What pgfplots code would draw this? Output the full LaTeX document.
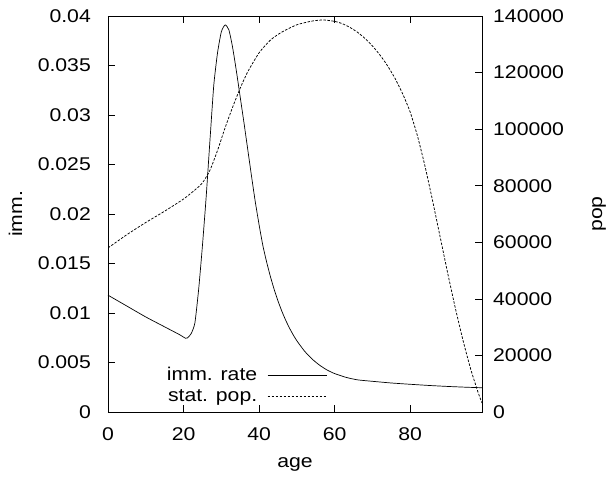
\documentclass[border=0pt]{standalone}
\usepackage{pgfplots}
\pgfplotsset{compat=1.18}
\usepackage{fontspec}
\setmainfont{Liberation Sans}[FakeStretch=1.15]

\pgfplotstableread{
age rate
0 0.0118
5 0.0107
10 0.0096
15 0.0086
19 0.0078
20.5 0.00745
21 0.00748
22 0.0079
23 0.0090
24 0.0124
25 0.0168
26 0.0218
27 0.0275
28 0.0330
29 0.0363
30 0.0384
31 0.0391
32 0.0386
33 0.0368
34 0.0344
35 0.0318
36 0.0292
37 0.0265
38 0.0238
39 0.0212
40 0.0189
41 0.0168
42 0.01514
43 0.01367
44 0.01237
45 0.01122
46 0.0102
47 0.0093
48 0.00851
49 0.00781
50 0.00719
52 0.00616
54 0.00536
56 0.00473
58 0.00424
60 0.00388
63 0.0035
66 0.00325
70 0.0031
75 0.00293
80 0.0028
85 0.00268
90 0.00258
95 0.0025
99 0.00245
}\ratetable

\pgfplotstableread{
age pop
0 58000
5 62700
10 67000
15 71000
20 75300
23 78500
25 81000
27 85500
29 92500
31 100500
33 107800
35 114500
37 120300
40 127000
43 131500
46 134300
50 136900
54 138200
57 138600
60 138100
62 137300
64 136000
66 134300
68 132100
70 129400
72 126200
74 122400
76 117900
78 112500
80 106000
82 97200
84 86400
86 74200
88 61400
90 48600
92 36400
94 25200
96 15200
98 6800
99 3200
}\poptable

\begin{document}
\begin{tikzpicture}
\pgfplotsset{
  every axis/.append style={
    scale only axis, width=374bp, height=396bp,
    xmin=0, xmax=99,
    scaled x ticks=false, scaled y ticks=false,
    tick label style={font=\fontsize{18.5}{22}\selectfont, inner sep=0pt},
    label style={font=\fontsize{18.5}{22}\selectfont},
    /pgf/number format/assume math mode=true,
    tick style={black, line width=0.6pt},
    tick align=inside,
    major tick length=7bp,
    axis line style={line width=0.6pt},
  }
}
\begin{axis}[
  ymin=0, ymax=0.04,
  xtick={0,20,40,60,80},
  xticklabels={0,20,40,60,80},
  xtick pos=both, xticklabel pos=bottom,
  ytick={0,0.005,0.01,0.015,0.02,0.025,0.03,0.035,0.04},
  yticklabels={0,0.005,0.01,0.015,0.02,0.025,0.03,0.035,0.04},
  ytick pos=left,
  xticklabel style={anchor=north, yshift=-15bp},
  yticklabel style={anchor=east, xshift=-17bp},
  xlabel={age}, ylabel={imm.},
  xlabel style={at={(axis description cs:0.5,0)}, anchor=center, yshift=-52bp},
  ylabel style={at={(axis description cs:0,0.5)}, anchor=center, yshift=92.5bp},
]
\addplot[black, line width=0.7pt, smooth, tension=0.35] table[x=age, y=rate] {\ratetable};
\end{axis}
\begin{axis}[
  ymin=0, ymax=140000,
  axis x line=none,
  axis y line*=right,
  ytick={0,20000,40000,60000,80000,100000,120000,140000},
  yticklabels={0,20000,40000,60000,80000,100000,120000,140000},
  ytick pos=right,
  yticklabel style={anchor=west, xshift=11bp},
  ylabel={pop},
  ylabel style={at={(axis description cs:1,0.5)}, anchor=center, yshift=-117bp},
  legend plot pos=right,
  legend cell align=right,
  legend style={draw=none, fill=none, font=\fontsize{18.5}{22}\selectfont,
    at={(rel axis cs:0.586,0.018)}, anchor=south east, inner sep=0pt, row sep=3bp,
    /tikz/column 1/.style={column sep=8bp}},
  legend image code/.code={\draw[#1] (0bp,0bp) -- (59bp,0bp);},
]
\addlegendimage{black, line width=0.7pt}
\addlegendentry{imm. rate}
\addplot[black, line width=0.75pt, dash pattern=on 2.5bp off 1.5bp, smooth, tension=0.35] table[x=age, y=pop] {\poptable};
\addlegendentry{stat. pop.}
\end{axis}
\pgfresetboundingbox
\path[use as bounding box] (-108bp,-68bp) rectangle (500bp,412bp);
\end{tikzpicture}
\end{document}
